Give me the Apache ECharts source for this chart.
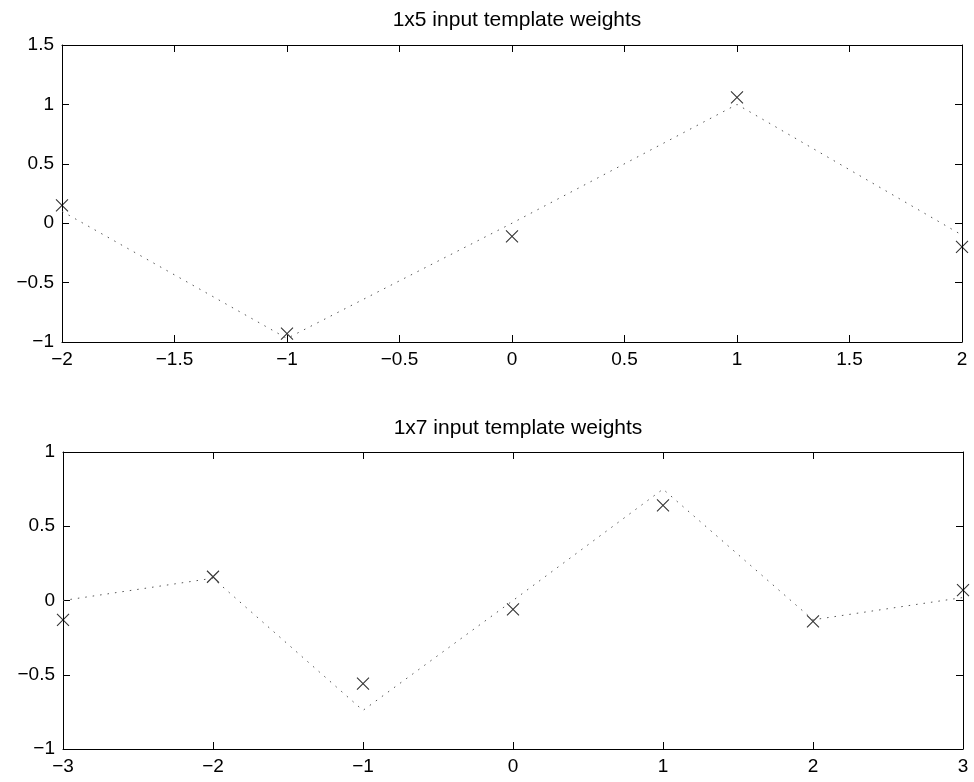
<!DOCTYPE html>
<html>
<head>
<meta charset="utf-8">
<script src="https://cdn.jsdelivr.net/npm/echarts@6/dist/echarts.min.js"></script>
<style>html,body{margin:0;padding:0;background:#fff}#c{width:974px;height:782px}</style>
</head>
<body>
<div id="c"></div>
<script>
const titles = ['1x5 input template weights', '1x7 input template weights'];
const xTop = [-2, -1, 0, 1, 2];
const topMarkers = [0.15, -0.93, -0.11, 1.06, -0.20];
const topLine = [0.10, -0.97, 0.00, 1.00, -0.10];
const xBot = [-3, -2, -1, 0, 1, 2, 3];
const botMarkers = [-0.13, 0.16, -0.56, -0.06, 0.64, -0.14, 0.07];
const botLine = [0.00, 0.15, -0.74, 0.00, 0.75, -0.13, 0.02];

const FONT = '"Liberation Sans", Arial, Helvetica, sans-serif';
const fmt = v => String(v).replace('-', '\u2212');
const pair = (xs, ys) => xs.map((x, i) => [x, ys[i]]);
const xSym = 'path://M0,0L10,10M10,0L0,10';

function axis(gridIndex, pos, min, max, interval, showLabel) {
  return {
    type: 'value', gridIndex, position: pos, min, max, interval,
    axisLine: { show: true, onZero: false, lineStyle: { color: '#000', width: 1 } },
    axisTick: { show: true, inside: true, length: 7, lineStyle: { color: '#000', width: 1 } },
    splitLine: { show: false },
    axisLabel: { show: showLabel, formatter: fmt, color: '#000', fontFamily: FONT, fontSize: 19, margin: 8 }
  };
}

const grids = [
  { left: 62, right: 12, top: 45, height: 297 },
  { left: 63, right: 11, top: 452, height: 297 }
];

const titleStyle = { fontFamily: FONT, fontSize: 21, fontWeight: 'normal', color: '#000' };

const option = {
  animation: false,
  backgroundColor: '#fff',
  title: [
    { text: titles[0], left: 512, top: 5, textAlign: 'center', textStyle: titleStyle },
    { text: titles[1], left: 513, top: 413, textAlign: 'center', textStyle: titleStyle }
  ],
  grid: grids,
  xAxis: [
    axis(0, 'bottom', -2, 2, 0.5, true),
    axis(0, 'top', -2, 2, 0.5, false),
    axis(1, 'bottom', -3, 3, 1, true),
    axis(1, 'top', -3, 3, 1, false)
  ],
  yAxis: [
    axis(0, 'left', -1, 1.5, 0.5, true),
    axis(0, 'right', -1, 1.5, 0.5, false),
    axis(1, 'left', -1, 1, 0.5, true),
    axis(1, 'right', -1, 1, 0.5, false)
  ],
  series: [
    { type: 'line', xAxisIndex: 0, yAxisIndex: 0, data: pair(xTop, topLine), showSymbol: false, symbol: 'none',
      lineStyle: { type: [1.5, 6], color: '#555', width: 1 } },
    { type: 'scatter', xAxisIndex: 0, yAxisIndex: 0, data: pair(xTop, topMarkers), clip: false,
      symbol: xSym, symbolSize: 12, itemStyle: { color: 'none', borderColor: '#000', borderWidth: 1.1 } },
    { type: 'line', xAxisIndex: 2, yAxisIndex: 2, data: pair(xBot, botLine), showSymbol: false, symbol: 'none',
      lineStyle: { type: [1.5, 6], color: '#555', width: 1 } },
    { type: 'scatter', xAxisIndex: 2, yAxisIndex: 2, data: pair(xBot, botMarkers), clip: false,
      symbol: xSym, symbolSize: 12, itemStyle: { color: 'none', borderColor: '#000', borderWidth: 1.1 } }
  ]
};
const chart = echarts.init(document.getElementById('c'), null, { renderer: 'canvas' });
chart.setOption(option);
</script>
</body>
</html>
